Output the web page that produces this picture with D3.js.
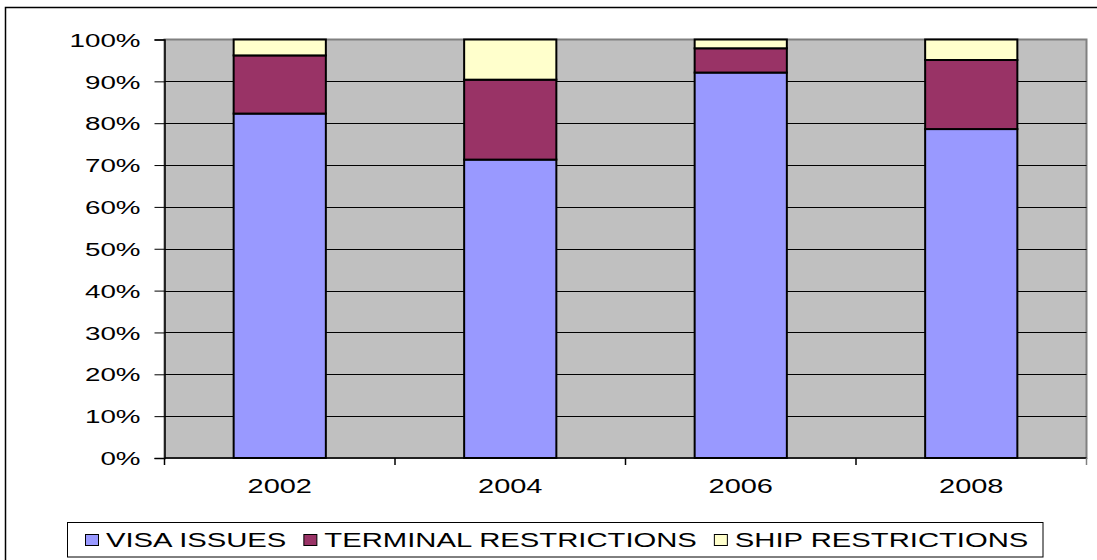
<!DOCTYPE html>
<html>
<head>
<meta charset="utf-8">
<script src="https://cdn.jsdelivr.net/npm/d3@7"></script>
<style>
  body { margin: 0; background: #fff; }
  text { font-family: "Liberation Sans", Arial, sans-serif; fill: #000; }
</style>
</head>
<body>
<div id="chart"></div>
<script>
// chart data (percent of each year)
var years = ["2002", "2004", "2006", "2008"];
var seriesNames = ["VISA ISSUES", "TERMINAL RESTRICTIONS", "SHIP RESTRICTIONS"];
var visaIssues = [82.3, 71.3, 92.1, 78.6];
var terminalRestrictions = [13.9, 19.1, 5.8, 16.5];
var shipRestrictions = [3.8, 9.6, 2.1, 4.9];
var yTicks = [0, 0.1, 0.2, 0.3, 0.4, 0.5, 0.6, 0.7, 0.8, 0.9, 1];

var colors = ["#9999FF", "#993366", "#FFFFCC"];

var width = 1097, height = 560;
var plot = {left: 164.5, right: 1086.5, top: 39.5, bottom: 458};
var sx = 1.5; // text in the picture is stretched horizontally

var svg = d3.select("#chart")
    .append("svg")
    .attr("width", width)
    .attr("height", height);

// outer chart frame
svg.append("rect")
    .attr("x", 5.5)
    .attr("y", 7.5)
    .attr("width", width + 20)
    .attr("height", height + 20)
    .attr("fill", "#fff")
    .attr("stroke", "#000")
    .attr("stroke-width", 1.5);

var table = years.map(function(yr, i) {
  return {year: yr, v0: visaIssues[i], v1: terminalRestrictions[i], v2: shipRestrictions[i]};
});

var stack = d3.stack()
    .keys(["v0", "v1", "v2"])
    .offset(d3.stackOffsetExpand);
var stacked = stack(table);

var x = d3.scaleBand()
    .domain(years)
    .range([plot.left, plot.right])
    .paddingInner(0.6)
    .paddingOuter(0.3);

var y = d3.scaleLinear()
    .domain([0, 1])
    .range([plot.bottom, plot.top]);

// plot area background
svg.append("rect")
    .attr("x", plot.left)
    .attr("y", plot.top)
    .attr("width", plot.right - plot.left)
    .attr("height", plot.bottom - plot.top)
    .attr("fill", "#C0C0C0")
    .attr("stroke", "#808080")
    .attr("stroke-width", 2);

// horizontal gridlines
svg.append("g")
    .selectAll("line")
    .data(yTicks.filter(function(d) { return d > 0 && d < 1; }))
    .enter()
    .append("line")
    .attr("x1", plot.left)
    .attr("x2", plot.right)
    .attr("y1", function(d) { return Math.round(y(d)) + 0.5; })
    .attr("y2", function(d) { return Math.round(y(d)) + 0.5; })
    .attr("stroke", "#000")
    .attr("stroke-width", 1);

// stacked bars
svg.append("g")
    .selectAll("g")
    .data(stacked)
    .enter()
    .append("g")
    .attr("fill", function(d, i) { return colors[i]; })
    .selectAll("rect")
    .data(function(d) { return d; })
    .enter()
    .append("rect")
    .attr("x", function(d) { return x(d.data.year); })
    .attr("y", function(d) { return y(d[1]); })
    .attr("width", x.bandwidth())
    .attr("height", function(d) { return y(d[0]) - y(d[1]); })
    .attr("stroke", "#000")
    .attr("stroke-width", 2);

// y axis
var yFont = 18.5;
var yAxis = svg.append("g")
    .attr("transform", "translate(" + plot.left + ",0)")
    .call(d3.axisLeft(y)
        .tickValues(yTicks)
        .tickSize(10)
        .tickFormat(function(d) { return Math.round(d * 100) + "%"; }));
yAxis.select(".domain").attr("stroke", "#000").attr("stroke-width", 1.5);
yAxis.selectAll(".tick line").attr("stroke", "#000");
yAxis.selectAll(".tick text")
    .attr("x", 0)
    .attr("y", 0)
    .attr("dy", null)
    .style("font-size", yFont + "px")
    .attr("transform", "translate(-24," + (yFont * 0.36) + ") scale(" + sx + ",1)");

// x axis line, boundary ticks and labels
svg.append("line")
    .attr("x1", plot.left)
    .attr("x2", plot.right)
    .attr("y1", plot.bottom)
    .attr("y2", plot.bottom)
    .attr("stroke", "#000")
    .attr("stroke-width", 1.5);

var bounds = d3.range(years.length + 1).map(function(i) {
  return plot.left + i * x.step();
});
svg.append("g")
    .selectAll("line")
    .data(bounds)
    .enter()
    .append("line")
    .attr("x1", function(d) { return d; })
    .attr("x2", function(d) { return d; })
    .attr("y1", plot.bottom)
    .attr("y2", plot.bottom + 7)
    .attr("stroke", function(d, i) { return i === years.length ? "#808080" : "#000"; })
    .attr("stroke-width", 1.5);

var xFont = 20;
svg.append("g")
    .selectAll("text")
    .data(years)
    .enter()
    .append("text")
    .style("font-size", xFont + "px")
    .attr("text-anchor", "middle")
    .attr("transform", function(d) {
      return "translate(" + (x(d) + x.bandwidth() / 2) + ",492.5) scale(" + (sx - 0.05) + ",1)";
    })
    .text(function(d) { return d; });

// legend
var legendFont = 19.5;
var legend = svg.append("g");
legend.append("rect")
    .attr("x", 67.5)
    .attr("y", 522.5)
    .attr("width", 975.5)
    .attr("height", 34.5)
    .attr("fill", "#fff")
    .attr("stroke", "#000")
    .attr("stroke-width", 1);

var lx = 85;
seriesNames.forEach(function(name, i) {
  legend.append("rect")
      .attr("x", lx + 0.5)
      .attr("y", 534.5)
      .attr("width", 13)
      .attr("height", 11)
      .attr("fill", colors[i])
      .attr("stroke", "#000")
      .attr("stroke-width", 1);
  lx += 21;
  var t = legend.append("text")
      .style("font-size", legendFont + "px")
      .attr("transform", "translate(" + lx + ",547.3) scale(" + sx + ",1)")
      .text(name);
  lx += t.node().getComputedTextLength() * sx + 17;
});
</script>
</body>
</html>
